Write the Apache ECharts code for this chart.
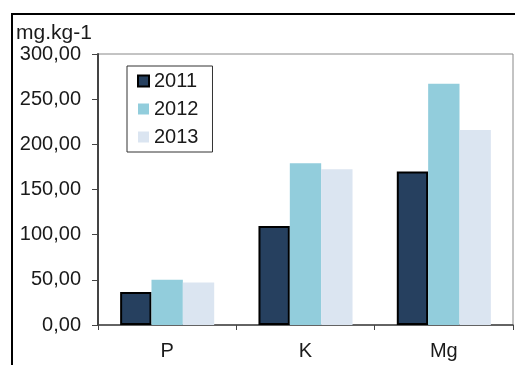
<!DOCTYPE html>
<html>
<head>
<meta charset="utf-8">
<script src="https://cdn.jsdelivr.net/npm/echarts@6/dist/echarts.min.js"></script>
<style>
  html, body { margin: 0; padding: 0; background: #fff; }
  #chart { width: 515px; height: 365px; }
</style>
</head>
<body>
<div id="chart"></div>
<script>
const categories = ['P', 'K', 'Mg']
const yearNames = ['2011', '2012', '2013']
const values2011 = [36.5, 109.5, 170]
const values2012 = [50, 179, 267]
const values2013 = [47, 172.5, 216]

const font = '"Liberation Sans", Arial, sans-serif'
const colors = ['#26405f', '#92cddc', '#dbe5f1']

const chart = echarts.init(document.getElementById('chart'), null, { renderer: 'canvas' })

function bar(name, data, color, border) {
  return {
    name,
    type: 'bar',
    data,
    barGap: '0%',
    barCategoryGap: '32%',
    itemStyle: border
      ? { color, borderColor: '#000', borderWidth: 2 }
      : { color },
    emphasis: { disabled: true },
  }
}

chart.setOption({
  animation: false,
  textStyle: { fontFamily: font },
  // outer frame of the chart object
  graphic: [{
    type: 'rect',
    shape: { x: 12, y: 14, width: 600, height: 500 },
    style: { fill: 'none', stroke: '#000', lineWidth: 2 },
    silent: true,
  }],
  title: {
    text: 'mg.kg-1',
    left: 16,
    top: 23,
    padding: 0,
    textStyle: { fontSize: 21, fontWeight: 'normal', color: '#1a1a1a', fontFamily: font },
  },
  legend: {
    orient: 'vertical',
    left: 127,
    top: 66,
    padding: [5, 14, 5, 10],
    itemGap: 8,
    itemWidth: 11,
    itemHeight: 11,
    icon: 'rect',
    borderColor: '#333',
    borderWidth: 1,
    data: yearNames,
    textStyle: { fontSize: 20, color: '#1a1a1a', fontFamily: font },
  },
  grid: {
    left: 98, right: 2, top: 54, bottom: 40,
    show: true, borderColor: '#888', borderWidth: 1,
    containLabel: false,
  },
  xAxis: {
    type: 'category',
    data: categories,
    axisLine: { lineStyle: { color: '#444', width: 1.5 } },
    axisTick: { show: true, length: 5, inside: false, lineStyle: { color: '#444' } },
    axisLabel: { fontSize: 20, color: '#1a1a1a', margin: 16, fontFamily: font },
    splitLine: { show: false },
  },
  yAxis: {
    type: 'value',
    min: 0,
    max: 300,
    interval: 50,
    axisLine: { show: true, lineStyle: { color: '#444', width: 2 } },
    axisTick: { show: true, length: 6, lineStyle: { color: '#444' } },
    axisLabel: {
      fontSize: 20,
      color: '#1a1a1a',
      margin: 17,
      fontFamily: font,
      formatter: (v) => v.toFixed(2).replace('.', ','),
    },
    splitLine: { show: false },
  },
  series: [
    bar(yearNames[0], values2011, colors[0], true),
    bar(yearNames[1], values2012, colors[1], false),
    bar(yearNames[2], values2013, colors[2], false),
  ],
})
</script>
</body>
</html>
